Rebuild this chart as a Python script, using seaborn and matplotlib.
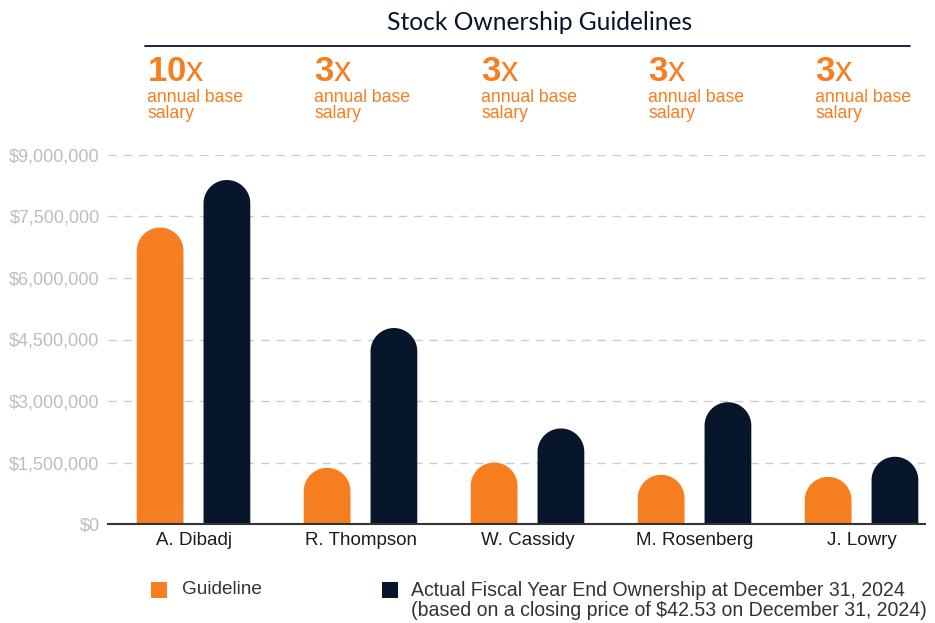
import matplotlib
matplotlib.use("Agg")
import matplotlib.pyplot as plt
import numpy as np
import pandas as pd
import seaborn as sns
from matplotlib import font_manager
from matplotlib.lines import Line2D
from matplotlib.patches import Polygon, Rectangle
from matplotlib.ticker import FuncFormatter
from matplotlib.transforms import blended_transform_factory

# ---- data -------------------------------------------------------------
executives = ["A. Dibadj", "R. Thompson", "W. Cassidy", "M. Rosenberg", "J. Lowry"]
guideline_values = [7_230_000, 1_370_000, 1_500_000, 1_200_000, 1_150_000]
actual_values = [8_390_000, 4_780_000, 2_330_000, 2_970_000, 1_640_000]
salary_multiples = ["10", "3", "3", "3", "3"]
y_ticks = [0, 1_500_000, 3_000_000, 4_500_000, 6_000_000, 7_500_000, 9_000_000]
legend_guideline = "Guideline"
legend_actual = [
    "Actual Fiscal Year End Ownership at December 31, 2024",
    "(based on a closing price of $42.53 on December 31, 2024)",
]
title = "Stock Ownership Guidelines"

ORANGE = "#F47E20"
NAVY = "#07162B"

df = pd.DataFrame({
    "executive": executives * 2,
    "value": guideline_values + actual_values,
    "series": ["Guideline"] * len(executives) + ["Actual"] * len(executives),
})

# ---- style ------------------------------------------------------------
sns.set_theme(style="white")
installed = {f.name for f in font_manager.fontManager.ttflist}
NARROW = "Liberation Sans Narrow" if "Liberation Sans Narrow" in installed else "Liberation Sans"
plt.rcParams["font.family"] = ["Liberation Sans", "DejaVu Sans"]
plt.rcParams["mathtext.fontset"] = "custom"
plt.rcParams["mathtext.rm"] = "Liberation Sans"
plt.rcParams["mathtext.bf"] = "Liberation Sans:bold"

W, H = 935, 623
fig = plt.figure(figsize=(W / 100, H / 100), dpi=100)
ax = fig.add_axes([108 / W, (H - 524) / H, (925 - 108) / W, (524 - 155) / H])

sns.barplot(
    data=df, x="executive", y="value", hue="series",
    order=executives, hue_order=["Guideline", "Actual"],
    palette=[ORANGE, NAVY], width=0.8, gap=0.3, legend=False,
    linewidth=0, saturation=1, ax=ax,
)

ax.set_xlim(-0.512, 4.380)
ax.set_ylim(0, 9_000_000)
ax.set_yticks(y_ticks)
ax.yaxis.set_major_formatter(FuncFormatter(lambda v, _: f"${v:,.0f}"))
ax.set_xlabel("")
ax.set_ylabel("")

ax.yaxis.grid(True, color="#cccccc", linestyle=(0, (6, 5)), linewidth=1)
ax.xaxis.grid(False)
ax.set_axisbelow(True)
for side in ("left", "right", "top"):
    ax.spines[side].set_visible(False)
ax.spines["bottom"].set_color("#333333")
ax.spines["bottom"].set_linewidth(1.5)
ax.spines["bottom"].set_zorder(5)

ax.tick_params(axis="y", length=0, pad=6, labelsize=13, labelcolor="#bdbdbd")
ax.tick_params(axis="x", length=0, pad=6, labelsize=13.5, labelcolor="#1c1c1c")

# ---- rounded bar tops: each bar becomes one outline with a semicircular cap ----
(x0, y0), (x1, y1) = ax.transData.transform([(0, 0), (1, 1)])
sx, sy = x1 - x0, y1 - y0
theta = np.linspace(np.pi, 0, 60)
for bar in list(ax.patches):
    x, w, h = bar.get_x(), bar.get_width(), bar.get_height()
    rx = w / 2
    ry = (rx * sx) / sy
    cx, cy = x + rx, h - ry
    arc = np.column_stack([cx + rx * np.cos(theta), cy + ry * np.sin(theta)])
    outline = np.vstack([[x, 0], arc, [x + w, 0]])
    ax.add_patch(Polygon(outline, closed=True, facecolor=bar.get_facecolor(),
                         linewidth=0, zorder=bar.get_zorder()))
    bar.remove()

# ---- header -------------------------------------------------------------
fig.canvas.draw()
renderer = fig.canvas.get_renderer()


def fit(text_obj, target_px):
    width = text_obj.get_window_extent(renderer).width
    text_obj.set_fontsize(text_obj.get_fontsize() * target_px / width)


t = fig.text(540 / W, 1 - 22 / H, title, ha="center", va="center",
             fontsize=16, color=NAVY, family=["Lato", "DejaVu Sans"])
fit(t, 306)
fig.add_artist(Line2D([145 / W, 910 / W], [1 - 46 / H] * 2, color=NAVY, linewidth=1.3))

blend = blended_transform_factory(ax.transData, fig.transFigure)
for i, mult in enumerate(salary_multiples):
    xi = i - 0.278
    # bold multiple followed by a regular "x", set in one mathtext string
    ax.text(xi, 1 - 81 / H, rf"$\mathbf{{{mult}}}\mathrm{{x}}$", transform=blend,
            ha="left", va="baseline", fontsize=25, color=ORANGE)
    # multi-line text: a baseline anchor refers to the last line ("salary")
    ax.text(xi, 1 - 117.5 / H, "annual base\nsalary", transform=blend, ha="left",
            va="baseline", fontsize=12.7, color=ORANGE, linespacing=0.89)

# ---- legend -------------------------------------------------------------
fig.add_artist(Rectangle((151 / W, 1 - 598 / H), 16 / W, 16 / H,
                         transform=fig.transFigure, facecolor=ORANGE, linewidth=0))
fig.add_artist(Rectangle((382 / W, 1 - 598 / H), 16 / W, 16 / H,
                         transform=fig.transFigure, facecolor=NAVY, linewidth=0))
g = fig.text(182 / W, 1 - 590 / H, legend_guideline, ha="left", va="center",
             fontsize=14, color="#333333", family=[NARROW, "DejaVu Sans"])
fit(g, 81)
l1 = fig.text(411 / W, 1 - 590 / H, legend_actual[0], ha="left", va="center",
              fontsize=14, color="#333333", family=[NARROW, "DejaVu Sans"])
fit(l1, 497)
fig.text(411 / W, 1 - 610 / H, legend_actual[1], ha="left", va="center",
         fontsize=l1.get_fontsize(), color="#333333", family=[NARROW, "DejaVu Sans"])

fig.savefig("out.png", dpi=100, facecolor="white")
